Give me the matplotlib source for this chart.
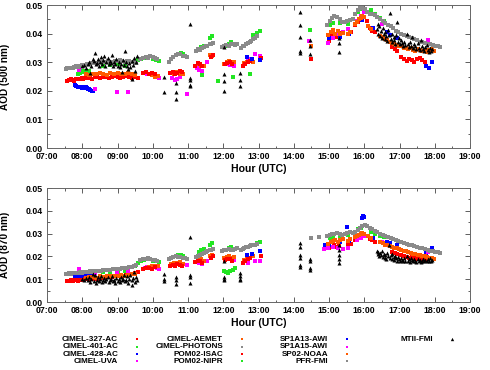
import matplotlib
matplotlib.use("Agg")
import matplotlib.pyplot as plt
from matplotlib.lines import Line2D
from matplotlib.ticker import MultipleLocator, FormatStrFormatter, FuncFormatter

nan = float("nan")

# ---- CIMEL-327-AC (red) ----
c327_t = [7.58, 7.63, 7.68, 7.73, 7.78, 7.83, 7.88, 7.93, 7.98, 8.03, 8.08, 8.13, 8.18, 8.23, 8.28, 8.35,
          8.42, 8.5, 8.58, 8.67, 8.75, 8.83, 8.92, 9.0, 9.08, 9.17, 9.25, 9.33, 9.42, 9.5, 9.58]
c327_500 = [0.0234, 0.0238, 0.0241, 0.0239, 0.0236, 0.0240, 0.0243, 0.0241, 0.0245, 0.0243, 0.0246, 0.0244,
            0.0248, 0.0245, 0.0243, 0.0247, 0.0249, 0.0246, 0.0250, 0.0247, 0.0245, 0.0249, 0.0252, 0.0248,
            0.0246, 0.0250, 0.0253, 0.0248, 0.0245, 0.0249, 0.0244]
c327_870 = [0.0092, 0.0094, 0.0095, 0.0093, 0.0095, 0.0096, 0.0094, 0.0097, 0.0098, 0.0096, 0.0099, 0.0100,
            0.0098, 0.0101, 0.0102, 0.0104, 0.0103, 0.0106, 0.0107, 0.0108, 0.0110, 0.0109, 0.0112, 0.0113,
            0.0114, 0.0116, 0.0117, 0.0119, 0.0122, 0.0126, 0.0130]

# ---- CIMEL-401-AC (green) ----
c401_t = [7.88, 7.93, 7.98, 8.03, 8.08, 8.13, 8.18, 8.6, 8.8, 9.0, 9.2, 9.5, 9.58, 9.67, 9.75,
          10.02, 10.1, 10.18, 10.65, 10.72, 10.8, 10.87, 11.3, 11.37, 11.45, 11.62, 11.68,
          12.08, 12.15, 12.22, 12.85, 12.95, 13.05]
c401_500 = [0.0258, 0.0262, 0.0268, 0.0266, 0.0270, 0.0265, 0.0268, 0.0285, 0.0290, 0.0292, 0.0288,
            0.0300, 0.0308, 0.0312, 0.0315, 0.0312, 0.0308, 0.0305, 0.0325, 0.0330, 0.0332, 0.0328,
            0.0345, 0.0352, 0.0358, 0.0385, 0.0390, 0.0358, 0.0365, 0.0370, 0.0395, 0.0402, 0.0410]
c401_870 = [0.0115, 0.0118, 0.0120, 0.0119, 0.0122, 0.0120, 0.0123, 0.0130, 0.0132, 0.0135, 0.0138,
            0.0160, 0.0172, 0.0180, 0.0185, 0.0182, 0.0178, 0.0175, 0.0200, 0.0205, 0.0208, 0.0202,
            0.0220, 0.0228, 0.0232, 0.0250, 0.0258, 0.0230, 0.0235, 0.0240, 0.0250, 0.0258, 0.0265]

# ---- CIMEL-428-AC (blue) ----
c428_t = [7.8, 7.83, 7.87, 7.9, 7.93, 7.97, 8.0, 8.03, 8.07, 8.1, 8.13, 8.17, 8.2, 8.23, 8.27, 8.3]
c428_500 = [0.0222, 0.0218, 0.0215, 0.0213, 0.0212, 0.0214, 0.0211, 0.0213, 0.0210, 0.0212, 0.0209,
            0.0207, 0.0205, 0.0203, 0.0200, 0.0198]
c428_870 = [0.0112, 0.0113, 0.0114, 0.0115, 0.0116, 0.0115, 0.0117, 0.0118, 0.0117, 0.0119, 0.0118,
            0.0117, 0.0116, 0.0115, 0.0114, 0.0113]

# ---- CIMEL-UVA (magenta) ----
uva_t = [7.92, 8.35, 8.98, 9.3, 9.78, 9.85, 10.12, 10.17, 10.55, 10.63, 10.7, 10.78, 10.97, 11.25,
         11.32, 11.4, 11.55, 12.1, 12.2, 12.3, 12.7, 12.9, 13.05]
uva_500 = [0.0273, 0.0208, 0.0196, 0.0196, 0.0262, 0.0258, 0.0252, 0.0245, 0.0245, 0.0238, 0.0242,
           0.0248, 0.0190, 0.0280, 0.0272, 0.0268, 0.0300, 0.0295, 0.0290, 0.0288, 0.0312, 0.0330, 0.0322]
uva_870 = [0.0144, 0.0128, 0.0132, 0.0135, 0.0150, 0.0152, 0.0148, 0.0145, 0.0165, 0.0160, 0.0168,
           0.0172, 0.0162, 0.0175, 0.0170, 0.0165, 0.0178, 0.0188, 0.0192, 0.0185, 0.0170, 0.0178, 0.0180]

# ---- CIMEL-AEMET (orange) ----
aemet_t = [8.1, 8.2, 8.3, 8.4, 8.5, 8.6, 8.7, 8.8, 8.9, 9.0, 9.1, 9.2, 9.3, 9.4, 9.5,
           9.9, 9.98, 10.07, 10.15, 10.52, 10.6, 10.68, 10.76, 10.85, 11.3, 11.38, 11.45, 11.63, 11.68,
           12.03, 12.1, 12.17, 12.24, 12.31, 12.6, 12.68, 12.76, 12.84]
aemet_500 = [0.0258, 0.0255, 0.0260, 0.0257, 0.0262, 0.0259, 0.0256, 0.0261, 0.0258, 0.0263, 0.0260,
             0.0257, 0.0262, 0.0259, 0.0256, 0.0258, 0.0255, 0.0250, 0.0252, 0.0262, 0.0258, 0.0265,
             0.0260, 0.0257, 0.0292, 0.0288, 0.0285, 0.0325, 0.0320, 0.0295, 0.0300, 0.0303, 0.0298,
             0.0302, 0.0298, 0.0300, 0.0305, 0.0302]
aemet_870 = [0.0105, 0.0108, 0.0110, 0.0107, 0.0112, 0.0110, 0.0113, 0.0115, 0.0112, 0.0116, 0.0118,
             0.0115, 0.0120, 0.0122, 0.0125, 0.0155, 0.0158, 0.0160, 0.0156, 0.0168, 0.0172, 0.0170,
             0.0175, 0.0165, 0.0185, 0.0190, 0.0182, 0.0200, 0.0205, 0.0192, 0.0196, 0.0200, 0.0195,
             0.0198, 0.0185, 0.0190, 0.0195, 0.0200]

# ---- CIMEL-PHOTONS (gray) ----
photons_t = [7.53, 7.58, 7.63, 7.68, 7.73, 7.78, 7.83, 7.88, 7.93, 7.98, 8.03, 8.08, 8.13, 8.18, 8.23,
             8.28, 8.33, 8.4, 8.47, 8.53, 8.6, 8.67, 8.73, 8.8, 8.87, 8.93, 9.0, 9.07, 9.13, 9.2,
             9.27, 9.33, 9.4, 9.47, 9.53,
             9.65, 9.72, 9.8, 9.87, 9.93, 10.0, 10.07, 10.13,
             10.45, 10.52, 10.58, 10.65, 10.72, 10.78, 10.85, 10.92, 10.98,
             11.22, 11.28, 11.33, 11.39, 11.44, 11.5, 11.55, 11.61, 11.66, 11.72,
             11.97, 12.03, 12.09, 12.15, 12.21, 12.27, 12.32, 12.38,
             12.5, 12.55, 12.6, 12.65, 12.7, 12.75, 12.8, 12.85, 12.9, 12.95]
photons_500 = [0.0276, 0.0278, 0.0279, 0.0281, 0.0280, 0.0283, 0.0285, 0.0284, 0.0287, 0.0289, 0.0288,
               0.0291, 0.0293, 0.0292, 0.0295, 0.0297, 0.0296, 0.0298, 0.0300, 0.0299, 0.0302, 0.0301,
               0.0303, 0.0300, 0.0302, 0.0305, 0.0303, 0.0306, 0.0304, 0.0301, 0.0303, 0.0305, 0.0302,
               0.0300, 0.0298,
               0.0312, 0.0315, 0.0318, 0.0316, 0.0320, 0.0317, 0.0313, 0.0310,
               0.0302, 0.0310, 0.0318, 0.0325, 0.0330, 0.0327, 0.0323, 0.0320, 0.0318,
               0.0340, 0.0345, 0.0343, 0.0348, 0.0352, 0.0355, 0.0358, 0.0362, 0.0365, 0.0368,
               0.0352, 0.0356, 0.0360, 0.0358, 0.0362, 0.0365, 0.0360, 0.0363,
               0.0350, 0.0355, 0.0358, 0.0362, 0.0366, 0.0370, 0.0375, 0.0380, 0.0385, 0.0390]
photons_870 = [0.0124, 0.0125, 0.0126, 0.0125, 0.0127, 0.0128, 0.0127, 0.0129, 0.0130, 0.0129, 0.0131,
               0.0132, 0.0131, 0.0133, 0.0134, 0.0133, 0.0135, 0.0136, 0.0138, 0.0137, 0.0139, 0.0140,
               0.0142, 0.0141, 0.0143, 0.0145, 0.0144, 0.0146, 0.0148, 0.0147, 0.0150, 0.0152, 0.0155,
               0.0158, 0.0162,
               0.0185, 0.0190, 0.0188, 0.0192, 0.0190, 0.0186, 0.0184, 0.0182,
               0.0190, 0.0195, 0.0198, 0.0200, 0.0198, 0.0196, 0.0195, 0.0193, 0.0190,
               0.0198, 0.0202, 0.0205, 0.0210, 0.0215, 0.0218, 0.0222, 0.0226, 0.0230, 0.0233,
               0.0225, 0.0228, 0.0230, 0.0232, 0.0230, 0.0228, 0.0233, 0.0235,
               0.0230, 0.0233, 0.0236, 0.0240, 0.0242, 0.0245, 0.0248, 0.0250, 0.0252, 0.0255]

# ---- POM02-ISAC (red) ----
isac_t = [9.72, 9.8, 9.88, 9.97, 10.05, 10.5, 10.57, 10.63, 10.7, 10.77, 10.83, 11.2, 11.27, 11.33, 11.4,
          11.65, 11.7, 12.05, 12.12, 12.18, 12.25, 12.55, 12.62, 12.7, 12.77, 13.08, 14.48,
          15.0, 15.07, 15.13, 15.2, 15.27, 15.55, 15.62,
          15.75, 15.82, 15.88, 15.93, 16.0, 16.07, 16.15, 16.22, 16.3,
          16.8, 16.87, 16.93, 17.05, 17.12, 17.2, 17.27, 17.35, 17.42, 17.5, 17.57, 17.65, 17.72]
isac_500 = [0.0262, 0.0265, 0.0258, 0.0263, 0.0260, 0.0262, 0.0266, 0.0259, 0.0263, 0.0268, 0.0264,
            0.0288, 0.0296, 0.0292, 0.0285, 0.0318, 0.0325, 0.0292, 0.0298, 0.0300, 0.0294,
            0.0286, 0.0293, 0.0301, 0.0305, 0.0315, 0.0310,
            0.0375, 0.0392, 0.0398, 0.0388, 0.0402, 0.0398, 0.0405,
            0.0430, 0.0440, 0.0452, 0.0460, 0.0458, 0.0445, 0.0418, 0.0410, 0.0405,
            0.0352, 0.0345, 0.0338, 0.0318, 0.0310, 0.0305, 0.0312, 0.0308, 0.0302, 0.0310, 0.0314,
            0.0306, 0.0300]
isac_870 = [0.0145, 0.0148, 0.0150, 0.0146, 0.0152, 0.0160, 0.0163, 0.0158, 0.0165, 0.0162, 0.0160,
            0.0175, 0.0180, 0.0178, 0.0172, 0.0195, 0.0200, 0.0185, 0.0190, 0.0188, 0.0182,
            0.0170, 0.0180, 0.0188, 0.0192, 0.0200, nan,
            0.0235, 0.0242, 0.0248, 0.0240, 0.0246, 0.0250, 0.0255,
            0.0272, 0.0280, 0.0285, 0.0292, 0.0295, 0.0288, 0.0278, 0.0272, 0.0265,
            0.0218, 0.0214, 0.0210, 0.0205, 0.0200, 0.0198, 0.0195, 0.0196, 0.0192, 0.0190, 0.0193,
            0.0188, 0.0186]

# ---- POM02-NIPR (green) ----
nipr_t = [11.4, 11.85, 12.02, 12.08, 12.14, 12.2, 12.28, 12.34, 12.76, 14.46, 15.02, 15.1, 15.3, 15.55,
          15.82, 15.9, 16.18, 16.3, 16.45, 16.55]
nipr_500 = [0.0255, 0.0234, nan, nan, nan, nan, 0.0247, nan, 0.0259, 0.0413, 0.0430, 0.0437, 0.0437,
            0.0434, 0.0476, 0.0485, 0.0482, 0.0470, 0.0455, 0.0445]
nipr_870 = [nan, nan, 0.0138, 0.0130, 0.0128, 0.0135, 0.0142, 0.0150, nan, nan, 0.0280, 0.0285, 0.0290,
            0.0295, 0.0318, 0.0325, 0.0308, 0.0300, 0.0290, 0.0285]

# ---- SP1A13-AWI (blue) ----
a13_t = [12.67, 12.82, 13.05, 14.9, 15.0, 15.3, 15.5, 15.57, 15.93, 15.96, 15.99, 16.25, 16.64, 16.72,
         16.93, 17.75, 17.83, 17.92]
a13_500 = [0.0318, 0.0312, 0.0308, nan, 0.0384, 0.0388, nan, 0.0400, 0.0448, nan, nan, 0.0420, 0.0405,
           0.0395, 0.0385, 0.0287, 0.0280, 0.0300]
a13_870 = [0.0205, 0.0210, 0.0225, 0.0250, 0.0252, 0.0262, 0.0329, 0.0268, 0.0370, 0.0378, 0.0372,
           0.0280, 0.0262, 0.0258, 0.0250, 0.0215, 0.0225, 0.0236]

# ---- SP1A15-AWI (magenta) ----
a15_t = [14.43, 14.85, 14.97, 15.1, 15.25, 15.4, 15.55, 15.8, 15.9, 16.0, 16.5, 17.8]
a15_500 = [0.0374, nan, 0.0367, 0.0385, 0.0400, 0.0405, 0.0415, 0.0445, 0.0460, 0.0475, 0.0435, 0.0378]
a15_870 = [nan, 0.0232, 0.0238, 0.0242, 0.0235, 0.0232, 0.0238, 0.0272, 0.0282, 0.0290, 0.0262, 0.0218]

# ---- SP02-NOAA (orange) ----
noaa_t = [14.48, 14.98, 15.05, 15.12, 15.18, 15.25, 15.32, 15.4, 15.55, 15.6,
          15.75, 15.8, 15.85, 15.9, 15.95, 16.0, 16.1, 16.2,
          16.45, 16.52, 16.58, 16.65, 16.72, 16.78, 16.85, 16.92, 16.98,
          17.05, 17.12, 17.18, 17.25, 17.32, 17.38, 17.45, 17.52, 17.58, 17.65, 17.72, 17.78, 17.85,
          17.92, 17.98]
noaa_500 = [0.0355, 0.0395, 0.0405, 0.0412, 0.0400, 0.0408, 0.0398, 0.0402, 0.0398, 0.0405,
            0.0435, 0.0442, 0.0450, 0.0455, 0.0462, 0.0458, 0.0425, 0.0415,
            0.0392, 0.0388, 0.0380, 0.0378, 0.0372, 0.0368, 0.0365, 0.0360, 0.0358,
            0.0355, 0.0350, 0.0348, 0.0345, 0.0348, 0.0342, 0.0340, 0.0345, 0.0342, 0.0338, 0.0340,
            0.0337, 0.0342, 0.0345, 0.0340]
noaa_870 = [nan, 0.0255, 0.0262, 0.0268, 0.0272, 0.0265, 0.0270, 0.0275, 0.0268, 0.0275,
            0.0285, 0.0290, 0.0295, 0.0298, 0.0302, 0.0300, 0.0290, 0.0282,
            0.0262, 0.0258, 0.0252, 0.0250, 0.0245, 0.0242, 0.0238, 0.0235, 0.0232,
            0.0228, 0.0225, 0.0222, 0.0218, 0.0215, 0.0212, 0.0210, 0.0208, 0.0205, 0.0202, 0.0200,
            0.0198, 0.0195, 0.0192, 0.0190]

# ---- PFR-FMI (gray) ----
pfr_t = [14.5, 14.72, 14.95, 15.02, 15.08, 15.15, 15.22, 15.3, 15.37,
         15.45, 15.52, 15.6, 15.67, 15.75, 15.82, 15.88, 15.95,
         16.02, 16.08, 16.15, 16.22, 16.3, 16.37, 16.45, 16.52, 16.6, 16.67, 16.75, 16.82, 16.9, 16.97,
         17.05, 17.12, 17.2, 17.27, 17.35, 17.42, 17.5, 17.57, 17.65, 17.72, 17.8, 17.87, 17.95,
         18.02, 18.08, 18.15]
pfr_500 = [nan, nan, 0.0430, 0.0445, 0.0455, 0.0462, 0.0458, 0.0450, 0.0442,
           0.0440, 0.0445, 0.0448, 0.0452, 0.0470, 0.0482, 0.0488, 0.0490,
           0.0485, 0.0475, 0.0470, 0.0468, 0.0465, 0.0458, 0.0452, 0.0445, 0.0438, 0.0430, 0.0425,
           0.0418, 0.0410, 0.0405,
           0.0400, 0.0395, 0.0392, 0.0388, 0.0385, 0.0380, 0.0376, 0.0372, 0.0370, 0.0368, 0.0365,
           0.0362, 0.0360,
           0.0358, 0.0356, 0.0354]
pfr_870 = [0.0280, 0.0285, 0.0290, 0.0295, 0.0300, 0.0298, 0.0302, 0.0300, 0.0296,
           0.0298, 0.0302, 0.0305, 0.0303, 0.0308, 0.0315, 0.0325, 0.0335,
           0.0338, 0.0332, 0.0325, 0.0318, 0.0312, 0.0305, 0.0300, 0.0295, 0.0290, 0.0285, 0.0280,
           0.0275, 0.0272, 0.0268,
           0.0265, 0.0260, 0.0255, 0.0250, 0.0248, 0.0245, 0.0240, 0.0238, 0.0236, 0.0232, 0.0228,
           0.0225, 0.0222,
           0.0220, 0.0218, 0.0216]

# ---- MTII-FMI (black triangles) ----
mtii_t = [8.0, 8.05, 8.1, 8.15, 8.2, 8.22, 8.25, 8.3, 8.33, 8.36, 8.38, 8.42, 8.45, 8.48, 8.5, 8.53,
          8.56, 8.6, 8.62, 8.65, 8.68, 8.72, 8.75, 8.78, 8.82, 8.85, 8.88, 8.9, 8.93, 8.97, 9.0, 9.03,
          9.07, 9.1, 9.13, 9.15, 9.18, 9.22, 9.25, 9.28, 9.3, 9.33, 9.36, 9.4, 9.42, 9.45, 9.48, 9.5,
          9.52, 9.55,
          10.33, 10.33, 10.33, 10.67, 10.67, 10.67, 11.05, 11.05, 11.05, 11.05, 11.05,
          12.03, 12.03, 12.03, 12.03, 12.47, 12.47, 12.47, 12.47,
          14.18, 14.18, 14.18, 14.18, 14.18, 14.18, 14.47, 14.47, 14.47, 14.47,
          15.27, 15.27, 15.27, 15.27, 15.27,
          16.35, 16.38, 16.4, 16.43, 16.45, 16.48, 16.5, 16.53, 16.55, 16.58, 16.6, 16.63, 16.65, 16.68,
          16.7, 16.73, 16.75, 16.78, 16.8, 16.83, 16.85, 16.88, 16.9, 16.93, 16.95, 16.98, 17.02, 17.05,
          17.08, 17.1, 17.13, 17.17, 17.2, 17.23, 17.27, 17.3, 17.33, 17.35, 17.38, 17.42, 17.45, 17.48,
          17.52, 17.55, 17.58, 17.6, 17.63, 17.67, 17.7, 17.73, 17.77, 17.8, 17.83, 17.87, 17.9, 17.93]
mtii_500 = [0.0285, 0.0290, 0.0278, 0.0295, 0.0300, 0.0262, 0.0288, 0.0310, 0.0305, 0.0332, 0.0292,
            0.0298, 0.0312, 0.0285, 0.0302, 0.0318, 0.0295, 0.0308, 0.0322, 0.0288, 0.0300, 0.0315,
            0.0292, 0.0305, 0.0298, 0.0325, 0.0285, 0.0302, 0.0295, 0.0310, 0.0288, 0.0300, 0.0282,
            0.0295, 0.0265, 0.0308, 0.0290, 0.0338, 0.0300, 0.0285, 0.0275, 0.0298, 0.0282, 0.0305,
            0.0242, 0.0290, 0.0315, 0.0268, 0.0300, 0.0320,
            0.0248, 0.0196, nan, 0.0227, 0.0196, 0.0172, 0.0435, 0.0245, 0.0238, 0.0222, 0.0216,
            0.0353, 0.0258, 0.0234, 0.0201, 0.0262, 0.0238, 0.0218, nan,
            0.0475, 0.0430, 0.0387, 0.0340, 0.0333, nan, 0.0376, 0.0357, 0.0327, nan,
            0.0384, 0.0367, 0.0336, nan, nan,
            0.0415, 0.0435, 0.0400, 0.0425, 0.0392, 0.0410, 0.0385, 0.0420, 0.0398, 0.0380, 0.0405,
            0.0390, 0.0375, 0.0412, 0.0395, 0.0472, 0.0382, 0.0398, 0.0370, 0.0388, 0.0378, 0.0365,
            0.0395, 0.0440, 0.0372, 0.0385, 0.0362, 0.0378, 0.0368, 0.0355, 0.0372, 0.0360, 0.0400,
            0.0365, 0.0352, 0.0370, 0.0358, 0.0388, 0.0348, 0.0362, 0.0355, 0.0345, 0.0368, 0.0350,
            0.0342, 0.0376, 0.0355, 0.0345, 0.0338, 0.0352, 0.0360, 0.0342, 0.0335, 0.0350, 0.0340,
            0.0345]
mtii_870 = [0.0100, 0.0095, 0.0105, 0.0098, 0.0110, 0.0088, 0.0102, 0.0125, 0.0092, 0.0118, 0.0085,
            0.0098, 0.0108, 0.0090, 0.0100, 0.0112, 0.0087, 0.0095, 0.0105, 0.0092, 0.0100, 0.0110,
            0.0088, 0.0096, 0.0102, 0.0115, 0.0090, 0.0098, 0.0085, 0.0105, 0.0092, 0.0100, 0.0088,
            0.0110, 0.0095, 0.0102, 0.0118, 0.0090, 0.0098, 0.0112, 0.0085, 0.0100, 0.0120, 0.0095,
            0.0075, 0.0105, 0.0130, 0.0088, 0.0110, 0.0098,
            0.0125, 0.0100, 0.0092, 0.0108, 0.0095, 0.0078, 0.0285, 0.0117, 0.0110, 0.0084, nan,
            0.0180, 0.0110, 0.0102, 0.0097, 0.0128, 0.0112, 0.0100, 0.0095,
            0.0258, 0.0240, 0.0205, 0.0195, 0.0162, 0.0153, 0.0190, 0.0180, 0.0150, 0.0140,
            0.0250, 0.0228, 0.0205, 0.0190, 0.0170,
            0.0225, 0.0210, 0.0218, 0.0200, 0.0215, 0.0205, 0.0222, 0.0198, 0.0212, 0.0195, 0.0208,
            0.0190, 0.0215, 0.0200, 0.0250, 0.0195, 0.0205, 0.0188, 0.0210, 0.0198, 0.0185, 0.0202,
            0.0192, 0.0182, 0.0198, 0.0190, 0.0180, 0.0195, 0.0185, 0.0178, 0.0192, 0.0182, 0.0200,
            0.0178, 0.0188, 0.0175, 0.0192, 0.0183, 0.0178, 0.0190, 0.0180, 0.0175, 0.0188, 0.0178,
            0.0185, 0.0175, 0.0182, 0.0190, 0.0178, 0.0185, 0.0180, 0.0188, 0.0178, 0.0192, 0.0182,
            0.0186]

RED = "#ff0000"
GREEN = "#22e622"
BLUE = "#0000ff"
MAGENTA = "#ff00ff"
ORANGE = "#ff5a00"
GRAY = "#8a8a8a"

# label, colour, marker, time, AOD500, AOD870  (legend order, column by column)
series = [
    ("CIMEL-327-AC", RED, "s", c327_t, c327_500, c327_870),
    ("CIMEL-401-AC", GREEN, "s", c401_t, c401_500, c401_870),
    ("CIMEL-428-AC", BLUE, "s", c428_t, c428_500, c428_870),
    ("CIMEL-UVA", MAGENTA, "s", uva_t, uva_500, uva_870),
    ("CIMEL-AEMET", ORANGE, "s", aemet_t, aemet_500, aemet_870),
    ("CIMEL-PHOTONS", GRAY, "s", photons_t, photons_500, photons_870),
    ("POM02-ISAC", RED, "s", isac_t, isac_500, isac_870),
    ("POM02-NIPR", GREEN, "s", nipr_t, nipr_500, nipr_870),
    ("SP1A13-AWI", BLUE, "s", a13_t, a13_500, a13_870),
    ("SP1A15-AWI", MAGENTA, "s", a15_t, a15_500, a15_870),
    ("SP02-NOAA", ORANGE, "s", noaa_t, noaa_500, noaa_870),
    ("PFR-FMI", GRAY, "s", pfr_t, pfr_500, pfr_870),
    ("MTII-FMI", "black", "^", mtii_t, mtii_500, mtii_870),
]

FONT = "Liberation Sans"
plt.rcParams["font.family"] = [FONT, "DejaVu Sans"]
plt.rcParams["font.weight"] = "bold"

W, H = 490, 370
fig = plt.figure(figsize=(W / 100, H / 100), dpi=100)
ax1 = fig.add_axes([47 / W, 1 - 148 / H, 423 / W, 143 / H])
ax2 = fig.add_axes([47 / W, 1 - 302 / H, 423 / W, 114 / H])

for ax, idx, ylab in [(ax1, 4, "AOD (500 nm)"), (ax2, 5, "AOD (870 nm)")]:
    for s in series:
        ms = 2.9 if s[2] == "^" else 2.2
        ax.plot(s[3], s[idx], linestyle="none", marker=s[2], color=s[1], markersize=ms,
                markeredgewidth=0)
    ax.set_xlim(7, 19)
    ax.set_ylim(0, 0.05)
    ax.xaxis.set_major_locator(MultipleLocator(1))
    ax.xaxis.set_minor_locator(MultipleLocator(0.5))
    ax.yaxis.set_major_locator(MultipleLocator(0.01))
    ax.yaxis.set_minor_locator(MultipleLocator(0.005))
    ax.xaxis.set_major_formatter(FuncFormatter(lambda v, p: "%02d:00" % int(round(v))))
    ax.yaxis.set_major_formatter(FormatStrFormatter("%.2f"))
    ax.tick_params(which="both", direction="in", top=True, right=True, colors="#444444",
                   labelcolor="black", labelsize=6.3, width=0.6)
    ax.tick_params(which="major", length=3.5, pad=3)
    ax.tick_params(which="minor", length=1.8)
    for lab in ax.get_xticklabels() + ax.get_yticklabels():
        lab.set_fontweight("bold")
    for sp in ax.spines.values():
        sp.set_color("#666666")
        sp.set_linewidth(0.7)
    ax.set_ylabel(ylab, fontsize=7.2, fontweight="bold")
    ax.yaxis.set_label_coords(-37 / 423, 0.5)
    ax.set_xlabel("Hour (UTC)", fontsize=7.6, fontweight="bold", labelpad=2)

# gnuplot-style key: right-aligned label, sample to its right
row_y = [339.3, 346.7, 354.0, 361.3]
col_text_x = [118, 223, 328, 433]
col_mark_dx = 19
for i, s in enumerate(series):
    col, row = divmod(i, 4)
    ty = 1 - row_y[row] / H
    fig.text(col_text_x[col] / W, ty, s[0], ha="right", va="center", fontsize=5.9,
             fontweight="bold")
    ms = 2.4 if s[2] == "^" else 1.9
    fig.add_artist(Line2D([(col_text_x[col] + col_mark_dx) / W], [ty], transform=fig.transFigure,
                          linestyle="none", marker=s[2], color=s[1], markersize=ms,
                          markeredgewidth=0))

fig.savefig("out.png", dpi=100)
